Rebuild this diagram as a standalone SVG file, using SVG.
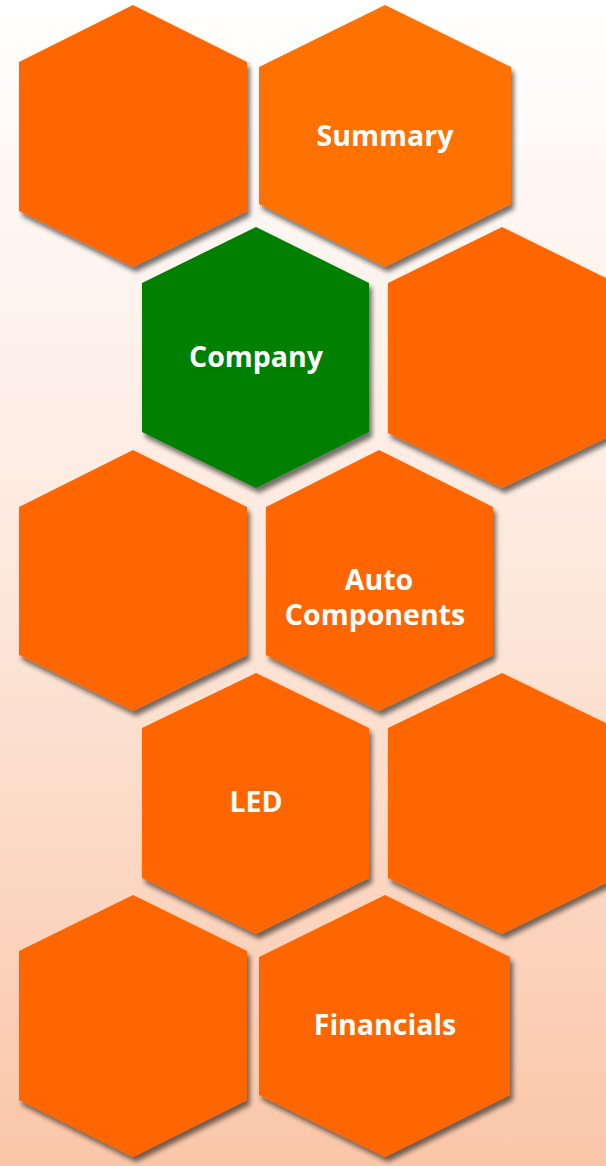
<svg xmlns="http://www.w3.org/2000/svg" width="606" height="1166" viewBox="0 0 606 1166">
<defs>
<linearGradient id="bg" x1="0" y1="0" x2="0" y2="1">
<stop offset="0" stop-color="#FFFFFF"/>
<stop offset="0.5" stop-color="#FDE8DC"/>
<stop offset="1" stop-color="#FAC6A8"/>
</linearGradient>
<filter id="sh" x="-10%" y="-10%" width="125%" height="125%">
<feGaussianBlur in="SourceAlpha" stdDeviation="2.5"/>
<feOffset dx="3" dy="5" result="b"/>
<feComponentTransfer><feFuncA type="linear" slope="0.55"/></feComponentTransfer>
<feMerge><feMergeNode/><feMergeNode in="SourceGraphic"/></feMerge>
</filter>
</defs>
<style>
.hex{fill:#FF6600;filter:url(#sh)}
.hexl{fill:#FF7100;filter:url(#sh)}
.hexg{fill:#008000;filter:url(#sh)}
.t{font-family:"Open Sans","Liberation Sans",sans-serif;font-weight:bold;font-size:28.5px;fill:#FFFFFF;text-anchor:middle}
</style>
<rect width="606" height="1166" fill="url(#bg)"/>
<g id="connectors"/>
<g id="hex1"><polygon class="hex" points="133,5 247,62 247,211 133,267 19,211 19,62"/></g>
<g id="summary"><polygon class="hexl" points="385,5 511,67 511,204 385,267 259,204 259,67"/><text class="t" x="385" y="146">Summary</text></g>
<g id="company"><polygon class="hexg" points="256,227 369,283 369,432 256,488 142,432 142,283"/><text class="t" x="256" y="367">Company</text></g>
<g id="hex4"><polygon class="hex" points="502,227 616,283 616,433 502,488 388,433 388,283"/></g>
<g id="hex5"><polygon class="hex" points="133,450 247,507 247,655 133,711 19,655 19,507"/></g>
<g id="auto"><polygon class="hex" points="379,450 493,507 493,655 379,711 266,655 266,507"/><text class="t" x="379" y="590">Auto</text><text class="t" x="375" y="625">Components</text></g>
<g id="led"><polygon class="hex" points="256,673 369,728 369,878 256,934 142,878 142,728"/><text class="t" x="256" y="812">LED</text></g>
<g id="hex8"><polygon class="hex" points="502,673 616,728 616,878 502,934 388,878 388,728"/></g>
<g id="hex9"><polygon class="hex" points="133,895 247,951 247,1100 133,1157 19,1100 19,951"/></g>
<g id="financials"><polygon class="hex" points="385,895 510,957 510,1095 385,1157 259,1095 259,957"/><text class="t" x="385" y="1035">Financials</text></g>
</svg>
